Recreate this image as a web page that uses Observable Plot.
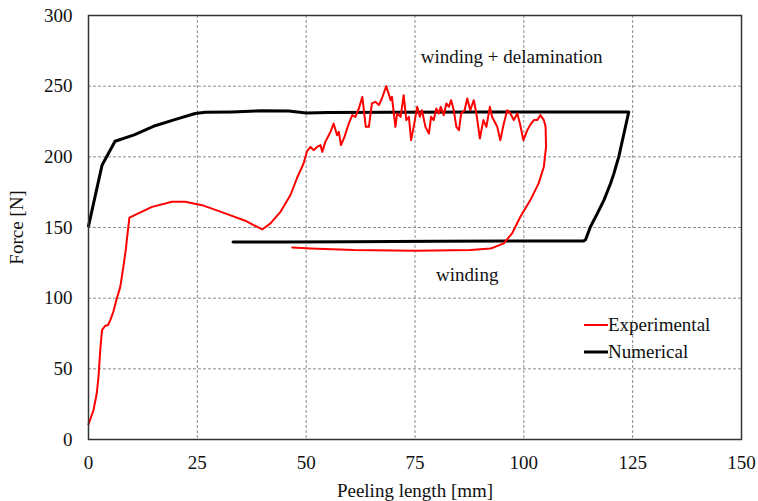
<!DOCTYPE html>
<html>
<head>
<meta charset="utf-8">
<script src="https://cdn.jsdelivr.net/npm/d3@7"></script>
<script src="https://cdn.jsdelivr.net/npm/@observablehq/plot@0.6"></script>
<style>
  html, body { margin: 0; padding: 0; background: #fff; }
  #wrap { position: relative; width: 758px; height: 501px; font-family: "Liberation Serif", "Times New Roman", serif; }
  #legend { position: absolute; left: 584px; top: 311px; font-size: 19px; color: #111; line-height: 27px; }
  #legend div { display: flex; align-items: center; }
  #legend svg { margin-right: 0px; }
</style>
</head>
<body>
<div id="wrap"><div id="chart"></div><div id="legend"></div></div>
<script>
// Experimental curve (peeling length mm, force N)
const expX = [0, 1.15, 1.9, 2.3, 2.7, 3.1, 3.8, 4.5, 5.0, 5.7, 6.5, 7.3, 8.0, 8.6, 8.8, 9.4,
  14.6, 19.2, 22.2, 26.1, 31.4, 36, 39.9, 41.8, 44.1, 46.4, 47.9, 49.4, 50.2,
  51, 51.7, 52.5, 53.3, 53.7, 54.4, 55.6, 56.3, 57.1, 57.5, 58, 58.8, 59.8, 60.6, 61.3,
  62.1, 62.9, 63.7, 64.4, 65.1, 65.9, 66.7, 67.4, 68.4, 69.4, 69.7, 70.5, 70.9, 71.7,
  72.4, 73, 73.6, 74.1, 74.7, 75.5, 76.1, 76.6, 77.4, 78.2, 78.7, 79.3, 79.9, 80.5,
  80.9, 81.6, 82.2, 82.8, 83.3, 83.9, 84.5, 85.1, 85.6, 86.4, 87, 87.7, 88.5, 89.1,
  89.9, 90.7, 91.4, 92.2, 92.7, 93.5, 93.9, 94.6, 95.4, 96.2, 96.9, 97.7, 98.5, 99.1,
  99.9, 100.8, 101.5, 102.3, 103.1, 103.8, 104.6, 105, 105.1, 104.6, 103.4, 101.5,
  99.2, 97.3, 95.4, 93.1, 92.3, 87.7, 75.1, 60.9, 51, 46.8];
const expY = [10.7, 20.9, 32.7, 44.4, 63.3, 77.4, 80.3, 81, 84.5, 90.4, 99.8, 108, 122, 135, 141, 157,
  164.6, 168.2, 168.2, 165.8, 160, 154.8, 148.6, 152.9, 161.1, 173, 185, 195.3, 204,
  207, 204.7, 207, 208.3, 203.5, 210.6, 217.7, 223.6, 215.3, 217.7, 208.3, 214.1, 223.6, 229.5, 228.3,
  234.2, 242.4, 221.2, 221.2, 237.8, 238.9, 236.6, 241.3, 250, 240.1, 242.4, 221.2, 230.7, 228.3,
  243.6, 226, 228.3, 211.8, 221.2, 235.4, 228.3, 233, 221.2, 216.5, 228.3, 226, 234.2, 230.7,
  235.4, 229.5, 237.8, 235.4, 240.1, 233, 221.2, 218.9, 230.7, 233, 241.3, 233, 240.1, 230.7,
  213, 226, 221.2, 235.4, 228.3, 223.6, 221.2, 211.8, 223.6, 233, 230.7, 226, 230.7, 223.6,
  211.8, 218.9, 222.8, 226, 226, 229.5, 226, 221.2, 207, 193, 181.2, 169.4,
  157.6, 145.8, 138.8, 135.9, 135.2, 134, 133.5, 134, 135.2, 135.9];

// Numerical curve
const numX = [0, 3.1, 6.1, 10.5, 15.3, 20, 24.5, 26.8, 33, 40, 46, 50, 55, 70, 90, 110, 124.1,
  123, 121.8, 120.7, 119.9, 118.4, 116.9, 115.3, 114.2, 113.8, 100, 80, 60, 45, 33.2];
const numY = [151, 194, 211, 215.5, 222, 226.5, 230.7, 231.5, 231.8, 232.6, 232.4, 231, 231.3, 231.6, 231.8, 231.8, 231.8,
  216.5, 200, 188.3, 181, 169.4, 160, 150.5, 141.5, 140.5, 140.4, 140.2, 140, 139.8, 139.7];

// Annotations
const noteText = ["winding + delamination", "winding"];
const noteX = [97.2, 87];
const noteY = [270.5, 116.3];

// Axis ticks and labels
const xTicks = [0, 25, 50, 75, 100, 125, 150];
const yTicks = [0, 50, 100, 150, 200, 250, 300];
const xLabel = "Peeling length [mm]";
const yLabel = "Force [N]";
const seriesNames = ["Experimental", "Numerical"];
const seriesColors = ["#ff0000", "#000000"];

const expData = expX.map((x, i) => ({x, y: expY[i]}));
const numData = numX.map((x, i) => ({x, y: numY[i]}));
const notes = noteText.map((t, i) => ({t, x: noteX[i], y: noteY[i]}));

const chart = Plot.plot({
  width: 758,
  height: 501,
  marginLeft: 88,
  marginRight: 17,
  marginTop: 15,
  marginBottom: 62,
  style: {fontFamily: "'Liberation Serif', 'Times New Roman', serif", fontSize: "19px", color: "#111", background: "#fff", overflow: "visible"},
  x: {domain: [0, 150]},
  y: {domain: [0, 300]},
  marks: [
    Plot.gridX(xTicks, {stroke: "#8c8c8c", strokeOpacity: 1, strokeDasharray: "3,2", strokeWidth: 1}),
    Plot.gridY(yTicks, {stroke: "#8c8c8c", strokeOpacity: 1, strokeDasharray: "3,2", strokeWidth: 1}),
    Plot.axisX(xTicks, {tickSize: 0, tickPadding: 16, label: xLabel, labelAnchor: "center", labelOffset: 57, labelArrow: "none", fontSize: 19}),
    Plot.axisY(yTicks, {tickSize: 0, tickPadding: 16, label: yLabel, labelAnchor: "center", labelOffset: 79, labelArrow: "none", fontSize: 19}),
    Plot.line(numData, {x: "x", y: "y", stroke: seriesColors[1], strokeWidth: 3, strokeLinejoin: "round"}),
    Plot.line(expData, {x: "x", y: "y", stroke: seriesColors[0], strokeWidth: 2, strokeLinejoin: "round"}),
    Plot.text(notes, {x: "x", y: "y", text: "t", fontSize: 19, fill: "#111"}),
    Plot.frame({stroke: "#333", strokeWidth: 1.5})
  ]
});
document.getElementById("chart").appendChild(chart);

const legend = document.getElementById("legend");
seriesNames.forEach((name, i) => {
  const row = document.createElement("div");
  row.innerHTML = `<svg width="24" height="10"><line x1="0" x2="24" y1="5" y2="5" stroke="${seriesColors[i]}" stroke-width="${i === 0 ? 2 : 3}"/></svg><span>${name}</span>`;
  legend.appendChild(row);
});
</script>
</body>
</html>
